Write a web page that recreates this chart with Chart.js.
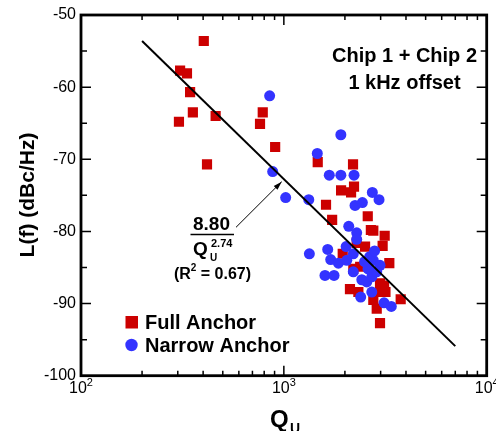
<!DOCTYPE html>
<html lang="en">
<head>
<meta charset="UTF-8">
<title>Phase noise vs Qu</title>
<script src="https://cdn.jsdelivr.net/npm/chart.js"></script>
<style>
    body { margin: 0; background: #fff; }
    #wrap { width: 496px; height: 431px; }
</style>
</head>
<body>
<div id="wrap"><canvas id="myChart" width="496" height="431"></canvas></div>
<script>
// Full Anchor (red squares)
const qFull = [403, 308, 333, 345, 356, 304, 461, 418, 787, 763, 906, 1469, 2193, 2218, 1915,
    2145, 1614, 2592, 1730, 2685, 2761, 3141, 3069, 2514, 1951, 3311, 2378, 3119, 3169, 2118,
    2330, 2761, 2870, 3767, 2979, 2286, 2979, 2979, 2200];
const lFull = [-53.6, -57.7, -58.1, -60.7, -63.5, -64.8, -64.0, -70.7, -63.5, -65.1, -68.3, -70.4, -70.7, -73.8, -74.3,
    -74.6, -76.3, -77.9, -78.4, -79.8, -79.9, -80.6, -82.0, -82.1, -83.1, -84.4, -84.9, -87.5, -88.4, -88.0,
    -88.4, -89.5, -90.7, -89.4, -92.7, -81.6, -87.2, -88.4, -85.2];

// Narrow Anchor (blue circles)
const qNarrow = [851, 1910, 1462, 881, 1675, 1910, 2218, 1021, 1327, 2730, 2946, 2244, 2438, 2089, 2286,
    2286, 2028, 1336, 1645, 2200, 1702, 1857, 2043, 2761, 2979, 1595, 1768, 2200, 2423, 2563,
    2713, 2870, 2393, 2713, 3119, 3386, 2600, 2500, 2650, 2800];
const lNarrow = [-61.2, -66.6, -69.2, -71.7, -72.2, -72.2, -72.2, -75.3, -75.6, -74.6, -75.6, -76.4, -76.0, -79.3, -80.2,
    -81.1, -82.1, -83.1, -82.5, -83.1, -83.9, -84.4, -84.0, -84.0, -84.7, -86.1, -86.1, -85.6, -86.7, -87.0,
    -86.3, -85.6, -89.1, -88.4, -89.9, -90.4, -85.2, -84.2, -83.5, -82.7];

// fit line 8.80/Qu^2.74 end points
const fitQ = [200, 7000];
const fitL = [-53.6, -95.9];

const xMajor = [100, 1000, 10000];
const xMajorExp = ['2', '3', '4'];

const FONT = '"Liberation Sans", Arial, sans-serif';
const RED = '#cc0000';
const BLUE = '#3333ff';

function pts(xs, ys) {
    return xs.map((x, i) => ({ x: x, y: ys[i] }));
}

function text(ctx, str, x, y, size, align) {
    ctx.font = 'bold ' + size + 'px ' + FONT;
    ctx.textAlign = align || 'left';
    ctx.fillText(str, x, y);
}

const framePlugin = {
    id: 'frame',
    afterDraw(chart) {
        const ctx = chart.ctx;
        const a = chart.chartArea;
        const xs = chart.scales.x;
        const ys = chart.scales.y;
        ctx.save();
        ctx.strokeStyle = '#000';
        ctx.fillStyle = '#000';

        // inward ticks
        ctx.lineWidth = 1.5;
        ctx.beginPath();
        for (let d = 100; d < 10000; d *= 10) {
            for (let k = 1; k <= 10; k++) {
                const px = xs.getPixelForValue(k * d);
                const len = (k === 1 || k === 10) ? 10 : 5;
                ctx.moveTo(px, a.bottom); ctx.lineTo(px, a.bottom - len);
                ctx.moveTo(px, a.top); ctx.lineTo(px, a.top + len);
            }
        }
        for (let v = -100; v <= -50; v += 5) {
            const py = ys.getPixelForValue(v);
            const len = (v % 10 === 0) ? 10 : 6;
            ctx.moveTo(a.left, py); ctx.lineTo(a.left + len, py);
            ctx.moveTo(a.right, py); ctx.lineTo(a.right - len, py);
        }
        ctx.stroke();

        // frame
        ctx.lineWidth = 2.8;
        ctx.strokeRect(a.left, a.top, a.right - a.left, a.bottom - a.top);

        // x tick labels 10^n
        xMajor.forEach((v, i) => {
            const px = xs.getPixelForValue(v);
            ctx.font = '16px ' + FONT;
            const w1 = ctx.measureText('10').width;
            ctx.font = '11px ' + FONT;
            const w2 = ctx.measureText(xMajorExp[i]).width;
            const x0 = px - (w1 + w2) / 2;
            ctx.textAlign = 'left';
            ctx.font = '16px ' + FONT;
            ctx.fillText('10', x0, 393);
            ctx.font = '11px ' + FONT;
            ctx.fillText(xMajorExp[i], x0 + w1, 386);
        });

        // axis titles
        text(ctx, 'Q', 270, 427, 24);
        text(ctx, 'U', 290, 433, 14);
        ctx.save();
        ctx.translate(34, 195);
        ctx.rotate(-Math.PI / 2);
        text(ctx, 'L(f) (dBc/Hz)', 0, 0, 21, 'center');
        ctx.restore();

        // labels
        text(ctx, 'Chip 1 + Chip 2', 404.5, 62, 20, 'center');
        text(ctx, '1 kHz offset', 404.5, 89, 20, 'center');

        // formula
        text(ctx, '8.80', 211.5, 230, 19, 'center');
        ctx.lineWidth = 1.5;
        ctx.beginPath();
        ctx.moveTo(190.5, 234.5); ctx.lineTo(234, 234.5);
        ctx.stroke();
        text(ctx, 'Q', 193, 255, 19);
        text(ctx, '2.74', 211, 247, 11);
        text(ctx, 'U', 210, 261, 10);
        ctx.font = 'bold 16px ' + FONT;
        const wa = ctx.measureText('(R').width;
        const wc = ctx.measureText(' = 0.67)').width;
        ctx.font = 'bold 10px ' + FONT;
        const wb = ctx.measureText('2').width;
        const sx = 212.5 - (wa + wb + wc) / 2;
        text(ctx, '(R', sx, 279, 16);
        text(ctx, '2', sx + wa, 271, 10);
        text(ctx, ' = 0.67)', sx + wa + wb, 279, 16);

        // arrow
        const tx = 281.7, ty = 181.7, fx = 236, fy = 227.3;
        ctx.lineWidth = 1;
        ctx.beginPath();
        ctx.moveTo(fx, fy); ctx.lineTo(tx, ty);
        ctx.stroke();
        const ang = Math.atan2(ty - fy, tx - fx);
        ctx.beginPath();
        ctx.moveTo(tx, ty);
        ctx.lineTo(tx - 9 * Math.cos(ang - 0.3), ty - 9 * Math.sin(ang - 0.3));
        ctx.lineTo(tx - 9 * Math.cos(ang + 0.3), ty - 9 * Math.sin(ang + 0.3));
        ctx.closePath();
        ctx.fill();

        // legend
        ctx.fillStyle = RED;
        ctx.fillRect(125.5, 316, 12.5, 12.5);
        ctx.fillStyle = BLUE;
        ctx.beginPath();
        ctx.arc(131.5, 345, 6.2, 0, Math.PI * 2);
        ctx.fill();
        ctx.fillStyle = '#000';
        text(ctx, 'Full Anchor', 145, 329, 20);
        text(ctx, 'Narrow Anchor', 145, 352, 20);
        ctx.restore();
    }
};

const ctx = document.getElementById('myChart').getContext('2d');
const myChart = new Chart(ctx, {
    type: 'scatter',
    data: {
        datasets: [
            {
                label: 'fit',
                data: pts(fitQ, fitL),
                showLine: true,
                borderColor: '#000',
                borderWidth: 2,
                pointRadius: 0,
                order: 0
            },
            {
                label: 'Narrow Anchor',
                data: pts(qNarrow, lNarrow),
                pointStyle: 'circle',
                pointRadius: 5.5,
                backgroundColor: BLUE,
                borderWidth: 0,
                order: 1
            },
            {
                label: 'Full Anchor',
                data: pts(qFull, lFull),
                pointStyle: 'rect',
                pointRadius: 7.2,
                backgroundColor: RED,
                borderWidth: 0,
                order: 2
            }
        ]
    },
    options: {
        responsive: false,
        animation: false,
        layout: { padding: { left: 0, right: 9.3, top: 15, bottom: 0 } },
        plugins: { legend: { display: false }, tooltip: { enabled: false } },
        scales: {
            x: {
                type: 'logarithmic',
                min: 100,
                max: 10000,
                grid: { display: false, drawTicks: false },
                border: { display: false },
                ticks: { display: false },
                afterFit: s => { s.height = 431 - 375.7; }
            },
            y: {
                min: -100,
                max: -50,
                grid: { display: false, drawTicks: false },
                border: { display: false },
                ticks: {
                    stepSize: 10,
                    padding: 5,
                    color: '#000',
                    font: { family: FONT, size: 16 }
                },
                afterFit: s => { s.width = 81; }
            }
        }
    },
    plugins: [framePlugin]
});
</script>
</body>
</html>
